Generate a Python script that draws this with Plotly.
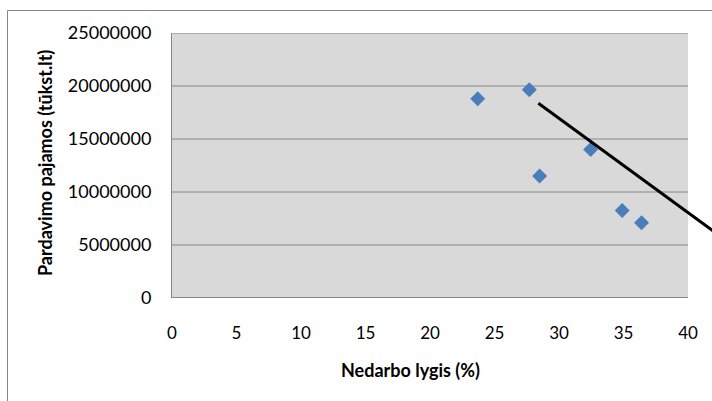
import plotly.graph_objects as go

# Data
unemployment = [23.7, 27.7, 28.5, 32.45, 34.9, 36.4]          # Nedarbo lygis (%)
revenue = [18.8e6, 19.65e6, 11.5e6, 14.0e6, 8.25e6, 7.1e6]     # Pardavimo pajamos
trend_x = [28.4, 43.0]
trend_y = [18.37e6, 5.39e6]
x_ticks = [0, 5, 10, 15, 20, 25, 30, 35, 40]
y_ticks = [0, 5000000, 10000000, 15000000, 20000000, 25000000]

W, H = 712, 401
L, R, T, B = 172, 0, 33, 103
pw, ph = W - L - R, H - T - B
px_per_x = (688 - 172) / 40.0
xmax = pw / px_per_x

def px_to_paper_x(px):
    return (px - L) / pw

def px_to_paper_y(py):
    return (H - B - py) / ph

GRID = "#868686"
FONT = "Lato"

fig = go.Figure()
fig.add_trace(go.Scatter(
    x=unemployment, y=revenue, mode="markers",
    marker=dict(symbol="diamond", size=11.5, color="#4A7EBB"),
    showlegend=False, cliponaxis=False,
))
fig.add_trace(go.Scatter(
    x=trend_x, y=trend_y, mode="lines",
    line=dict(color="black", width=3), showlegend=False,
))

shapes = []
# plot area background
shapes.append(dict(type="rect", xref="x", yref="y", x0=x_ticks[0], x1=x_ticks[-1],
                   y0=y_ticks[0], y1=y_ticks[-1], fillcolor="#D9D9D9",
                   line=dict(width=0), layer="below"))
# gridlines
for v in y_ticks[1:]:
    shapes.append(dict(type="line", xref="x", yref="y", x0=x_ticks[0], x1=x_ticks[-1],
                       y0=v, y1=v, line=dict(color=GRID, width=1), layer="below"))
# x axis line
shapes.append(dict(type="line", xref="x", yref="y", x0=x_ticks[0], x1=x_ticks[-1],
                   y0=0, y1=0, line=dict(color=GRID, width=2), layer="below"))
# chart border
shapes.append(dict(type="rect", xref="paper", yref="paper",
                   x0=px_to_paper_x(7.5), x1=px_to_paper_x(W + 20),
                   y0=px_to_paper_y(H + 20), y1=px_to_paper_y(10.5),
                   line=dict(color=GRID, width=1), fillcolor="rgba(0,0,0,0)", layer="below"))

fig.update_layout(
    width=W, height=H,
    margin=dict(l=L, r=R, t=T, b=B, pad=0),
    paper_bgcolor="white", plot_bgcolor="white",
    font=dict(family=FONT, size=17, color="black"),
    shapes=shapes,
    xaxis=dict(range=[0, xmax], tickvals=x_ticks, ticktext=[str(v) for v in x_ticks],
               showgrid=False, zeroline=False, showline=False,
               ticks="outside", ticklen=20, tickcolor="rgba(0,0,0,0)",
               tickfont=dict(family=FONT, size=17)),
    yaxis=dict(range=[0, 25e6], tickvals=y_ticks, ticktext=[str(v) for v in y_ticks],
               showgrid=False, zeroline=False, showline=True, linecolor=GRID, linewidth=1,
               ticks="outside", ticklen=16, tickcolor="rgba(0,0,0,0)",
               tickfont=dict(family=FONT, size=18)),
    annotations=[
        dict(text="<b>Nedarbo lygis (%)</b>", xref="paper", yref="paper",
             x=px_to_paper_x(410), y=px_to_paper_y(370), showarrow=False,
             xanchor="center", yanchor="middle", font=dict(family=FONT, size=18)),
        dict(text="<b>Pardavimo pajamos (tūkst.lt)</b>", xref="paper", yref="paper",
             x=px_to_paper_x(45), y=px_to_paper_y(163), showarrow=False, textangle=-90,
             xanchor="center", yanchor="middle", font=dict(family=FONT, size=18)),
    ],
)

fig.write_html("out.html")
